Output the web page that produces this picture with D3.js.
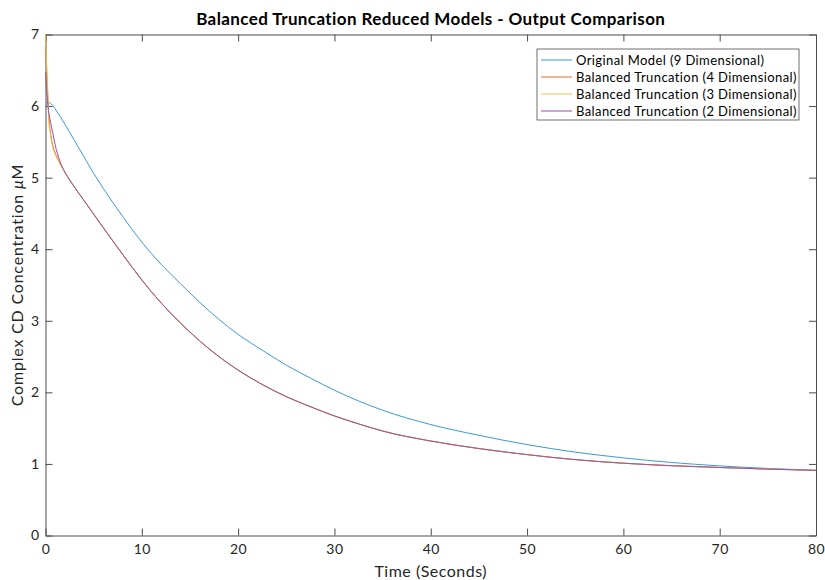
<!DOCTYPE html>
<html lang="en">
<head>
    <meta charset="UTF-8">
    <script src="https://d3js.org/d3.v7.min.js"></script>
    <style>
        body { margin: 0; background: #fff; font-family: Lato, "DejaVu Sans", sans-serif; }
        .axis path, .axis line { stroke: #4d4d4d; }
        .axis text { fill: #262626; font-size: 14px; font-family: Lato, sans-serif; letter-spacing: 0.5px; }
        .series { fill: none; stroke-width: 1px; }
    </style>
</head>
<body>
<svg id="chart" width="825" height="580"></svg>
<script>
    // chart data
    const time = [0, 0.1, 0.2, 0.35, 0.5, 0.75, 1, 1.5, 2, 3, 4, 5, 6, 8, 10, 12, 14, 16, 18, 20,
                  22.5, 25, 27.5, 30, 32.5, 35, 40, 45, 50, 55, 60, 65, 70, 75, 80];
    const original9 = [6.05, 6.05, 6.05, 6.05, 6.04, 6.01, 5.96, 5.86, 5.75, 5.52, 5.29, 5.06, 4.85, 4.46, 4.10, 3.79, 3.52, 3.26, 3.02, 2.81,
                  2.59, 2.38, 2.20, 2.03, 1.88, 1.75, 1.55, 1.40, 1.27, 1.165, 1.085, 1.02, 0.973, 0.937, 0.91];
    const bt4 = [6.85, 6.55, 6.25, 5.84, 5.65, 5.45, 5.35, 5.20, 5.08, 4.87, 4.68, 4.49, 4.30, 3.93, 3.57, 3.25, 2.97, 2.72, 2.50, 2.31,
                  2.11, 1.94, 1.80, 1.67, 1.56, 1.46, 1.32, 1.215, 1.13, 1.06, 1.01, 0.975, 0.95, 0.928, 0.91];
    const bt3 = [7.0, 6.65, 6.33, 5.78, 5.62, 5.42, 5.33, 5.19, 5.075, 4.87, 4.68, 4.49, 4.30, 3.93, 3.57, 3.25, 2.97, 2.72, 2.50, 2.31,
                  2.11, 1.94, 1.80, 1.67, 1.56, 1.46, 1.32, 1.215, 1.13, 1.06, 1.01, 0.975, 0.95, 0.928, 0.91];
    const bt2 = [6.47, 6.25, 6.08, 5.90, 5.79, 5.63, 5.46, 5.23, 5.08, 4.87, 4.68, 4.49, 4.30, 3.93, 3.57, 3.25, 2.97, 2.72, 2.50, 2.31,
                  2.11, 1.94, 1.80, 1.67, 1.56, 1.46, 1.32, 1.215, 1.13, 1.06, 1.01, 0.975, 0.95, 0.928, 0.91];
    const seriesNames = ["Original Model (9 Dimensional)", "Balanced Truncation (4 Dimensional)",
                         "Balanced Truncation (3 Dimensional)", "Balanced Truncation (2 Dimensional)"];
    const seriesColors = ["#3d9ad6", "#e06a35", "#f0c04a", "#9552a3"];
    const xTicks = [0, 10, 20, 30, 40, 50, 60, 70, 80];
    const yTicks = [0, 1, 2, 3, 4, 5, 6, 7];

    const width = 825, height = 580;
    const margin = {top: 34.5, right: 9, bottom: 44.5, left: 45.5};
    const svg = d3.select("#chart");

    const x = d3.scaleLinear().domain([0, 80]).range([margin.left, width - margin.right]);
    const y = d3.scaleLinear().domain([0, 7]).range([height - margin.bottom, margin.top]);
    const tick = 7;
    const fmt = d3.format("d");

    // box with inward ticks on all four sides
    svg.append("g").attr("class", "axis")
        .attr("transform", `translate(0,${height - margin.bottom})`)
        .call(d3.axisBottom(x).tickValues(xTicks).tickFormat(fmt).tickSizeInner(-tick).tickSizeOuter(0).tickPadding(6))
        .selectAll("text").attr("dy", "0.9em");
    svg.append("g").attr("class", "axis")
        .attr("transform", `translate(0,${margin.top})`)
        .call(d3.axisTop(x).tickValues(xTicks).tickSizeInner(-tick).tickSizeOuter(0).tickFormat(""));
    svg.append("g").attr("class", "axis")
        .attr("transform", `translate(${margin.left},0)`)
        .call(d3.axisLeft(y).tickValues(yTicks).tickFormat(fmt).tickSizeInner(-tick).tickSizeOuter(0).tickPadding(6));
    svg.append("g").attr("class", "axis")
        .attr("transform", `translate(${width - margin.right},0)`)
        .call(d3.axisRight(y).tickValues(yTicks).tickSizeInner(-tick).tickSizeOuter(0).tickFormat(""));

    const allSeries = [original9, bt4, bt3, bt2];
    const line = d3.line().x((d, i) => x(time[i])).y(d => y(d)).curve(d3.curveMonotoneX);

    svg.append("g").selectAll("path").data(allSeries).enter().append("path")
        .attr("class", "series")
        .attr("stroke", (d, i) => seriesColors[i])
        .attr("d", line);

    // title and labels
    svg.append("text")
        .attr("x", (margin.left + width - margin.right) / 2).attr("y", 25)
        .attr("text-anchor", "middle")
        .style("font-size", "17px").style("font-weight", "bold").style("letter-spacing", "0.4px").style("fill", "#000")
        .text("Balanced Truncation Reduced Models - Output Comparison");

    svg.append("text")
        .attr("x", (margin.left + width - margin.right) / 2).attr("y", 577)
        .attr("text-anchor", "middle")
        .style("font-size", "16px").style("letter-spacing", "0.5px").style("fill", "#262626")
        .text("Time (Seconds)");

    const yl = svg.append("text")
        .attr("transform", `translate(23,${(margin.top + height - margin.bottom) / 2}) rotate(-90)`)
        .attr("text-anchor", "middle")
        .style("font-size", "16px").style("letter-spacing", "0.8px").style("fill", "#262626");
    yl.append("tspan").text("Complex CD Concentration ");
    yl.append("tspan").style("font-style", "italic").text("\u03bc");
    yl.append("tspan").text("M");

    // legend
    const lg = svg.append("g").attr("transform", "translate(537,49)");
    lg.append("rect").attr("width", 262).attr("height", 71)
        .attr("fill", "#fff").attr("stroke", "#4d4d4d").attr("stroke-width", 0.8);
    const rows = lg.selectAll("g.row").data(seriesNames).enter().append("g")
        .attr("transform", (d, i) => `translate(0,${11 + i * 17})`);
    rows.append("line").attr("x1", 4).attr("x2", 35)
        .attr("stroke", (d, i) => seriesColors[i]);
    rows.append("text").attr("x", 39).attr("dy", "0.35em")
        .style("font-size", "13px").style("letter-spacing", "0.4px").style("fill", "#000")
        .text(d => d);
</script>
</body>
</html>
